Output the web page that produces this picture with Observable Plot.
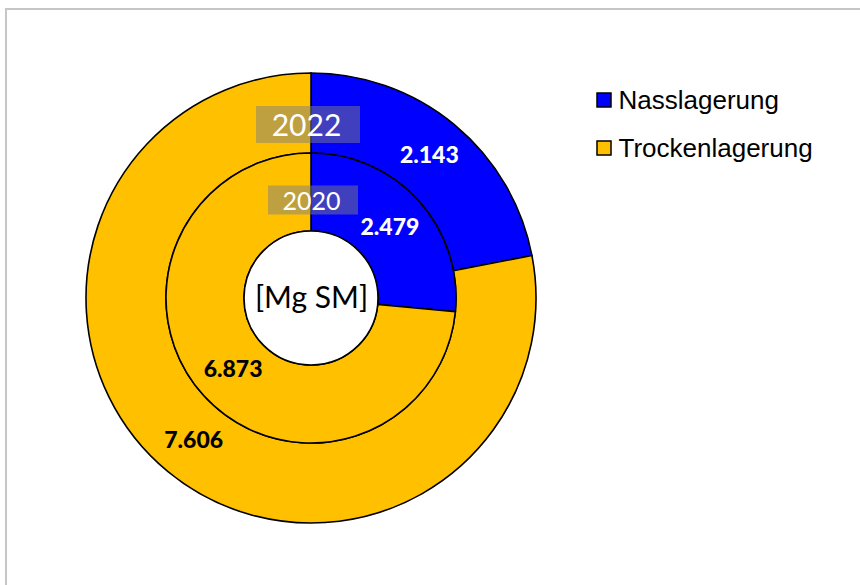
<!DOCTYPE html>
<html><head><meta charset="utf-8">
<script src="https://cdn.jsdelivr.net/npm/d3@7"></script>
<script src="https://cdn.jsdelivr.net/npm/@observablehq/plot@0.6"></script>
<style>
body{margin:0;background:#fff;}
#chart{position:absolute;left:0;top:0;}
#frame{position:absolute;left:5px;top:8px;width:900px;height:700px;border:2px solid #c6c6c6;box-sizing:border-box;pointer-events:none;}
</style></head><body>
<div id="chart"></div><div id="frame"></div>
<script>
// ---- data ----
const categories = ["Nasslagerung", "Trockenlagerung"];
const colors = ["#0000FF", "#FFC000"];
const years = ["2020", "2022"];           // inner ring, outer ring
const values2020 = [2479, 6873];
const values2022 = [2143, 7606];
const labelColors = ["#ffffff", "#000000"];
const unitLabel = "[Mg SM]";

// ---- layout ----
const W = 860, H = 585;
const cx = 311, cy = 298;
const rings = [
  {year: "2022", values: values2022, r0: 145, r1: 225, boxY: 124.5, boxW: 104, boxH: 37, boxDx: -3, fs: 30},
  {year: "2020", values: values2020, r0: 67,  r1: 145, boxY: 200,   boxW: 90,  boxH: 29, boxDx: 2,  fs: 25}
];
const fmt = d3.formatLocale({decimal: ",", thousands: ".", grouping: [3], currency: ["", " €"]}).format(",d");

const pie = d3.pie().sort(null).value(d => d.value);
const ringArcs = rings.map(r => ({
  ring: r,
  arcs: pie(categories.map((c, i) => ({cat: c, value: r.values[i], i}))),
  gen: d3.arc().innerRadius(r.r0).outerRadius(r.r1)
}));

const labels = ringArcs.flatMap(({arcs, gen}) => arcs.map(a => {
  const [dx, dy] = gen.centroid(a);
  return {x: cx + dx, y: cy + dy, text: fmt(a.data.value), color: labelColors[a.data.i]};
}));

const boxes = rings.map(r => ({x: cx + r.boxDx, y: r.boxY, w: r.boxW, h: r.boxH, text: r.year, fs: r.fs}));

const legend = categories.map((c, i) => ({cat: c, x: 597, y: 100 + i * 48}));

function donut(index, scales) {
  const g = d3.create("svg:g")
    .attr("transform", `translate(${scales.x(cx)},${scales.y(cy)})`);
  for (const {arcs, gen} of ringArcs) {
    g.append("g").selectAll("path").data(arcs).join("path")
      .attr("d", gen)
      .attr("fill", d => scales.color(d.data.cat))
      .attr("stroke", "#000")
      .attr("stroke-width", 1.6);
  }
  g.append("circle").attr("r", rings[1].r0).attr("fill", "#fff")
    .attr("stroke", "#000").attr("stroke-width", 1.6);
  return g.node();
}

const chart = Plot.plot({
  width: W, height: H,
  margin: 0,
  x: {domain: [0, W], range: [0, W], axis: null},
  y: {domain: [0, H], range: [0, H], axis: null},
  color: {domain: categories, range: colors},
  style: {background: "none"},
  marks: [
    donut,
    Plot.rect(boxes, {x1: d => d.x - d.w / 2, x2: d => d.x + d.w / 2, y1: d => d.y - d.h / 2, y2: d => d.y + d.h / 2,
      fill: "#808080", fillOpacity: 0.5}),
    Plot.text(boxes, {x: d => d.x - 2, y: "y", text: "text", fill: "#fff", fontSize: d => d.fs, fontFamily: "Lato", dy: 1}),
    Plot.text(labels, {x: "x", y: "y", text: "text", fill: "color", fontSize: 23, fontWeight: 900, fontFamily: "Lato"}),
    Plot.text([unitLabel], {x: cx, y: cy, text: d => d, fontSize: 30, fontFamily: "Lato", fill: "#000"}),
    Plot.rect(legend, {x1: d => d.x, x2: d => d.x + 14, y1: d => d.y - 7, y2: d => d.y + 7,
      fill: "cat", stroke: "#000", strokeWidth: 1.5}),
    Plot.text(legend, {x: d => d.x + 21, y: "y", text: "cat", textAnchor: "start", fontSize: 26,
      fontFamily: "Liberation Sans", fill: "#000"})
  ]
});
document.getElementById("chart").appendChild(chart);
</script>
</body></html>
